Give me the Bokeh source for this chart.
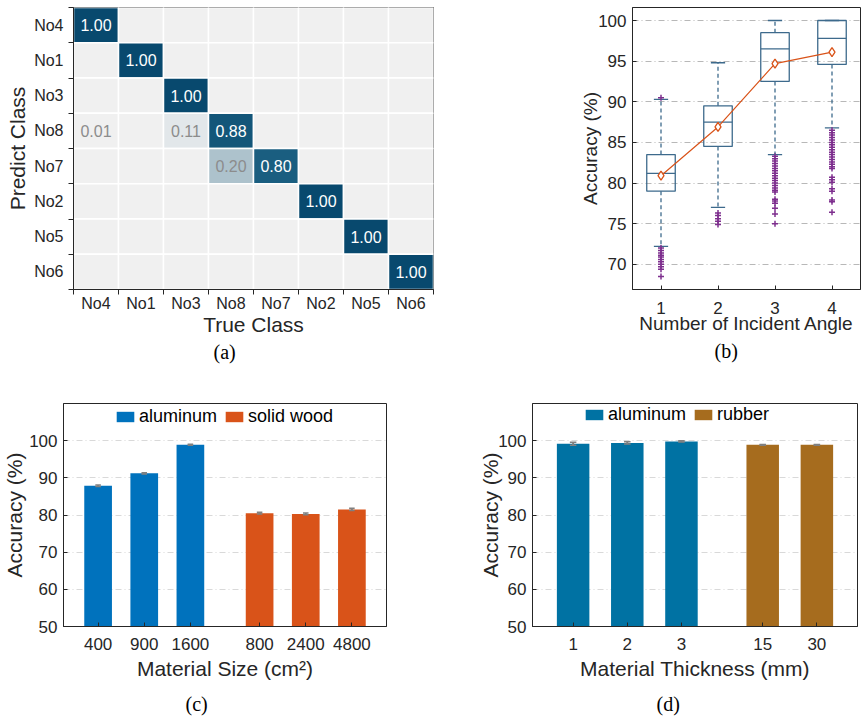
import numpy as np
from bokeh.plotting import figure
from bokeh.models import Range1d, FixedTicker, Legend, LegendItem, Title, ColumnDataSource
from bokeh.layouts import column, row
from bokeh.core.properties import value
from bokeh.embed import file_html
from bokeh.resources import INLINE

# ---------------- data ----------------
# (a) confusion matrix
class_names = ["No4", "No1", "No3", "No8", "No7", "No2", "No5", "No6"]
conf_matrix = [  # rows: predicted class (top to bottom), columns: true class
    [1.00, 0, 0, 0, 0, 0, 0, 0],
    [0, 1.00, 0, 0, 0, 0, 0, 0],
    [0, 0, 1.00, 0, 0, 0, 0, 0],
    [0.01, 0, 0.11, 0.88, 0, 0, 0, 0],
    [0, 0, 0, 0.20, 0.80, 0, 0, 0],
    [0, 0, 0, 0, 0, 1.00, 0, 0],
    [0, 0, 0, 0, 0, 0, 1.00, 0],
    [0, 0, 0, 0, 0, 0, 0, 1.00],
]

# (b) box plot statistics per number of incident angles
n_angles = [1, 2, 3, 4]
box_q1 = [79.0, 84.5, 92.5, 94.6]
box_median = [81.2, 87.5, 96.5, 97.8]
box_q3 = [83.5, 89.5, 98.5, 100.0]
whisker_low = [72.2, 77.0, 83.5, 86.8]
whisker_high = [90.3, 94.8, 100.0, 100.0]
mean_acc = [80.9, 86.9, 94.7, 96.1]
outliers_1 = [90.5, 72.0, 71.7, 71.4, 71.1, 70.9, 70.6, 70.3, 70.0, 69.7, 69.4, 68.5]
outliers_2 = [76.3, 76.0, 75.6, 75.3, 74.9]
outliers_3 = [83.3, 83.0, 82.7, 82.4, 82.1, 81.8, 81.5, 81.2, 80.9, 80.6, 80.3, 80.0,
              79.7, 79.4, 79.1, 78.9, 78.0, 77.8, 77.5, 76.9, 76.2, 75.0]
outliers_4 = [86.5, 86.2, 85.9, 85.6, 85.3, 85.0, 84.7, 84.4, 84.1, 83.8, 83.5, 83.2,
              82.9, 82.6, 82.3, 82.0, 81.8, 80.7, 80.4, 80.1, 79.3, 79.0, 77.9, 77.7, 76.4]

# (c) material size
size_labels_al = ["400", "900", "1600"]
size_acc_al = [87.9, 91.2, 98.9]
size_err_al = [0.2, 0.15, 0.15]
size_labels_wood = ["800", "2400", "4800"]
size_acc_wood = [80.5, 80.3, 81.5]
size_err_wood = [0.25, 0.25, 0.3]

# (d) material thickness
thick_labels_al = ["1", "2", "3"]
thick_acc_al = [99.2, 99.4, 99.8]
thick_err_al = [0.4, 0.3, 0.15]
thick_labels_rub = ["15", "30"]
thick_acc_rub = [98.9, 98.9]
thick_err_rub = [0.1, 0.1]

# ---------------- style ----------------
FONT = "Liberation Sans"
SERIF = "Liberation Serif"
TXT = "#262626"


def base_style(p, tick_size="17px", label_size="21px", xstand=11, xlab=3, ylab=0):
    p.outline_line_color = TXT
    p.outline_line_width = 1
    p.background_fill_color = "white"
    p.border_fill_color = "white"
    for ax in p.axis:
        ax.major_label_text_font = FONT
        ax.major_label_text_font_size = tick_size
        ax.major_label_text_color = TXT
        ax.axis_label_text_font = FONT
        ax.axis_label_text_font_size = label_size
        ax.axis_label_text_font_style = "normal"
        ax.axis_label_text_color = TXT
        ax.axis_line_color = TXT
        ax.major_tick_line_color = TXT
        ax.minor_tick_line_color = None
        ax.major_tick_in = 4
        ax.major_tick_out = 0
        ax.major_label_standoff = 6
    p.xaxis.major_label_standoff = xstand
    p.xaxis.axis_label_standoff = xlab
    p.yaxis.axis_label_standoff = ylab


def add_caption(p, text, offset, standoff):
    t = Title(text=text, align="left", offset=offset, text_font=SERIF,
              text_font_size="20px", text_font_style="normal", text_color="black",
              standoff=standoff)
    p.add_layout(t, "below")


# ---------------- (a) confusion matrix ----------------
stops = [(0.0, (240, 240, 240)), (0.02, (240, 240, 240)), (0.11, (226, 231, 234)),
         (0.20, (173, 194, 204)), (0.80, (26, 94, 128)), (1.00, (8, 73, 110))]


def cell_color(v):
    for (v0, c0), (v1, c1) in zip(stops[:-1], stops[1:]):
        if v <= v1:
            t = 0 if v1 == v0 else (v - v0) / (v1 - v0)
            c = [round(a + (b - a) * t) for a, b in zip(c0, c1)]
            return "#%02x%02x%02x" % tuple(c)
    return "#%02x%02x%02x" % stops[-1][1]


n = len(class_names)
cx, cy, cfill, tx, ty, ttext, tcol = [], [], [], [], [], [], []
for i, rowvals in enumerate(conf_matrix):
    for j, v in enumerate(rowvals):
        cx.append(j + 0.5)
        cy.append(i + 0.5)
        cfill.append(cell_color(v))
        if v > 0:
            tx.append(j + 0.5)
            ty.append(i + 0.5)
            ttext.append("%.2f" % v)
            tcol.append("white" if v > 0.5 else "#8c8c8c")

pa = figure(width=440, height=375, x_range=Range1d(0, n), y_range=Range1d(n, 0),
            output_backend="svg", toolbar_location=None,
            min_border_left=73, min_border_right=7, min_border_top=7, min_border_bottom=83)
pa.rect(x=cx, y=cy, width=1, height=1, fill_color=cfill, line_color="white", line_width=1.5)
pa.text(x=tx, y=ty, text=ttext, text_color=tcol, text_align="center", text_baseline="middle",
        text_font=value(FONT), text_font_size="16px")
pa.grid.visible = False
centers = [k + 0.5 for k in range(n)]
bounds = list(range(n + 1))
pa.xaxis.ticker = FixedTicker(ticks=centers, minor_ticks=bounds)
pa.yaxis.ticker = FixedTicker(ticks=centers, minor_ticks=bounds)
pa.xaxis.major_label_overrides = {c: name for c, name in zip(centers, class_names)}
pa.yaxis.major_label_overrides = {c: name for c, name in zip(centers, class_names)}
pa.xaxis.axis_label = "True Class"
pa.yaxis.axis_label = "Predict Class"
base_style(pa, tick_size="16px", label_size="21px", xstand=0, xlab=-2, ylab=2)
for ax in pa.axis:
    ax.major_tick_line_color = None
    ax.minor_tick_line_color = TXT
    ax.minor_tick_out = 5
    ax.minor_tick_in = 0
pa.yaxis.major_label_standoff = 5
add_caption(pa, "(a)", 140, 0)

# ---------------- (b) box plot ----------------
BOX = "#3d6a8c"
pb = figure(width=422, height=375, x_range=Range1d(0.5, 4.5), y_range=Range1d(66.9, 101.6),
            output_backend="svg", toolbar_location=None,
            min_border_left=192, min_border_right=2, min_border_top=7, min_border_bottom=86)
pb.xgrid.visible = False
pb.ygrid.grid_line_color = "#b8b8b8"
pb.ygrid.grid_line_dash = "6 3 1 3"
pb.ygrid.grid_line_width = 1
pb.xaxis.ticker = FixedTicker(ticks=n_angles)
pb.yaxis.ticker = FixedTicker(ticks=[70, 75, 80, 85, 90, 95, 100])
half = 0.25
xa = np.array(n_angles, dtype=float)
pb.segment(x0=xa, y0=box_q3, x1=xa, y1=whisker_high, line_color=BOX, line_dash="4 3", line_width=1.3)
pb.segment(x0=xa, y0=box_q1, x1=xa, y1=whisker_low, line_color=BOX, line_dash="4 3", line_width=1.3)
pb.segment(x0=xa - half / 2, y0=whisker_high, x1=xa + half / 2, y1=whisker_high, line_color=BOX, line_width=1.3)
pb.segment(x0=xa - half / 2, y0=whisker_low, x1=xa + half / 2, y1=whisker_low, line_color=BOX, line_width=1.3)
pb.quad(left=xa - half, right=xa + half, bottom=box_q1, top=box_q3, fill_color=None,
        line_color=BOX, line_width=1.3)
pb.segment(x0=xa - half, y0=box_median, x1=xa + half, y1=box_median, line_color=BOX, line_width=1.3)
ox, oy = [], []
for k, outs in zip(n_angles, [outliers_1, outliers_2, outliers_3, outliers_4]):
    ox += [k] * len(outs)
    oy += outs
pb.scatter(x=ox, y=oy, marker="cross", size=6, line_color="#7e2f8e", line_width=1.5)
pb.line(x=n_angles, y=mean_acc, line_color="#d95319", line_width=1.2)
pb.scatter(x=n_angles, y=mean_acc, marker="diamond", size=9, fill_color="white",
           line_color="#d95319", line_width=1.3)
pb.xaxis.axis_label = "Number of Incident Angle"
pb.yaxis.axis_label = "Accuracy (%)"
base_style(pb, tick_size="17px", label_size="19px", xstand=12, xlab=-4, ylab=-6)
add_caption(pb, "(b)", 82, 2)


# ---------------- (c), (d) bar charts ----------------
def bar_panel(width, height, borders, xmax, groups, xlabel, caption, cap_offset, legend_xy, ylab):
    pl, pr, pt, pbm = borders
    p = figure(width=width, height=height, x_range=Range1d(0.25, xmax), y_range=Range1d(50, 110),
               output_backend="svg", toolbar_location=None,
               min_border_left=pl, min_border_right=pr, min_border_top=pt, min_border_bottom=pbm)
    p.xgrid.visible = False
    p.ygrid.grid_line_color = "#d9d9d9"
    p.ygrid.grid_line_dash = "6 3 1 3"
    p.yaxis.ticker = FixedTicker(ticks=[50, 60, 70, 80, 90, 100])
    pos = 1
    ticks, overrides, items = [], {}, []
    for labels, acc, err, color, name in groups:
        xs = []
        for lab in labels:
            xs.append(pos)
            ticks.append(pos)
            overrides[pos] = lab
            pos += 1
        pos += 0.5
        xs = np.array(xs, dtype=float)
        r = p.vbar(x=xs, top=acc, bottom=50, width=0.6, fill_color=color, line_color=None)
        accv = np.array(acc)
        errv = np.array(err)
        p.segment(x0=xs, y0=accv - errv, x1=xs, y1=accv + errv, line_color="#808080", line_width=2)
        p.segment(x0=xs - 0.06, y0=accv + errv, x1=xs + 0.06, y1=accv + errv, line_color="#808080", line_width=1.5)
        p.segment(x0=xs - 0.06, y0=accv - errv, x1=xs + 0.06, y1=accv - errv, line_color="#808080", line_width=1.5)
        items.append(LegendItem(label=name, renderers=[r]))
    p.xaxis.ticker = FixedTicker(ticks=ticks)
    p.xaxis.major_label_overrides = overrides
    p.xaxis.axis_label = xlabel
    p.yaxis.axis_label = "Accuracy (%)"
    base_style(p, tick_size="17px", label_size="21px", xstand=11, xlab=4, ylab=ylab)
    leg = Legend(items=items, location=legend_xy, orientation="horizontal",
                 glyph_width=22, glyph_height=13, label_height=16, label_standoff=3,
                 spacing=6, padding=2, margin=0, border_line_color=None,
                 background_fill_alpha=0, label_text_font=FONT, label_text_font_size="18px",
                 label_text_color="black")
    p.add_layout(leg)
    add_caption(p, caption, cap_offset, 17)
    return p


pc = bar_panel(440, 348, (63, 54, 28, 95), 7.25,
               [(size_labels_al, size_acc_al, size_err_al, "#0072bd", "aluminum"),
                (size_labels_wood, size_acc_wood, size_err_wood, "#d95319", "solid wood")],
               "Material Size (cm²)", "(c)", 122, (51, 199), 0)
pd_ = bar_panel(422, 348, (92, 5, 27, 94), 6.25,
                [(thick_labels_al, thick_acc_al, thick_err_al, "#0072a3", "aluminum"),
                 (thick_labels_rub, thick_acc_rub, thick_err_rub, "#a66c1e", "rubber")],
                "Material Thickness (mm)", "(d)", 124, (51, 201), -7)

layout = column(row(pa, pb), row(pc, pd_))
open("out.html", "w").write(file_html(layout, INLINE))
